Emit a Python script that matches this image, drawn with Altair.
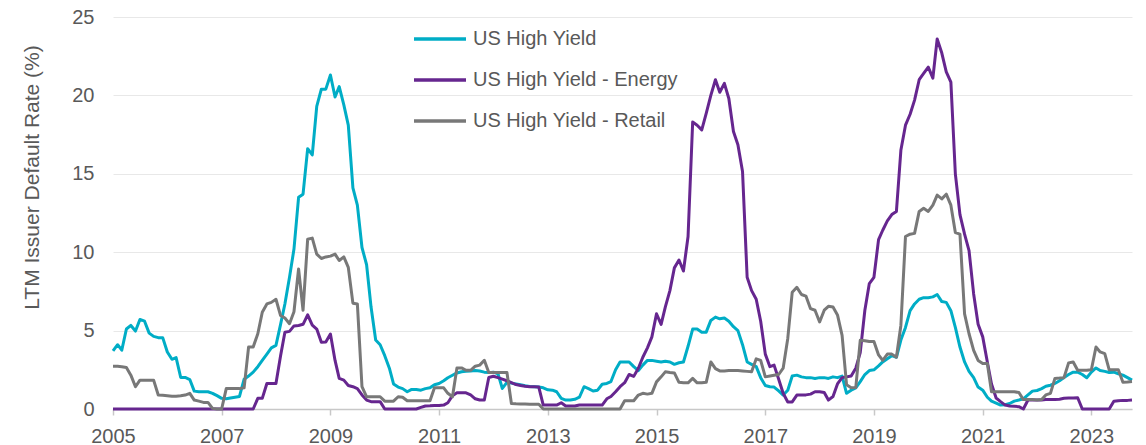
import altair as alt
import pandas as pd

# Monthly observations, Jan 2005 .. Oct 2023 (226 months)
start_month = "2005-01-01"
n_months = 226

hy = [
    3.7, 4.1, 3.75, 5.1, 5.33, 4.97, 5.71, 5.6, 4.84, 4.63, 4.55, 4.55,
    3.64, 3.17, 3.28, 2.01, 2.01, 1.88, 1.14, 1.1, 1.1, 1.1, 1.0, 0.85,
    0.68, 0.65, 0.7, 0.75, 0.8, 1.9, 2.1, 2.35, 2.7, 3.1, 3.5, 3.9,
    4.06, 5.4, 6.7, 8.4, 10.2, 13.5, 13.7, 16.6, 16.2, 19.3, 20.4, 20.4,
    21.3, 19.9, 20.56, 19.4, 18.1, 14.1, 13.0, 10.3, 9.2, 6.5, 4.4, 4.1,
    3.4, 2.6, 1.6, 1.4, 1.3, 1.1, 1.25, 1.25, 1.2, 1.3, 1.35, 1.55,
    1.63, 1.8, 1.99, 2.15, 2.3, 2.38, 2.4, 2.43, 2.45, 2.42, 2.35, 2.32,
    2.35, 2.25, 1.31, 1.7, 1.65, 1.6, 1.55, 1.48, 1.44, 1.42, 1.4, 1.35,
    1.22, 1.2, 1.1, 0.68, 0.57, 0.57, 0.62, 0.75, 1.42, 1.3, 1.15, 1.2,
    1.58, 1.63, 1.75, 2.5, 3.0, 3.0, 3.0, 2.7, 2.45, 2.8, 3.1, 3.1,
    3.05, 3.0, 3.05, 3.0, 2.85, 2.95, 3.0, 4.0, 5.1, 5.1, 4.9, 4.9,
    5.65, 5.86, 5.75, 5.8, 5.6, 5.25, 5.0, 4.1, 3.0, 2.85, 2.7, 2.0,
    1.5, 1.42, 1.4, 1.15, 0.89, 1.2, 2.1, 2.16, 2.05, 2.0, 2.0, 1.95,
    2.0, 2.0, 1.95, 2.05, 2.0, 2.1, 1.0, 1.2, 1.35, 1.75, 2.2, 2.45,
    2.5, 2.75, 3.0, 3.2, 3.4, 3.3, 4.4, 5.2, 6.27, 6.7, 7.0, 7.1,
    7.1, 7.15, 7.3, 6.85, 6.8, 6.27, 5.2, 3.95, 3.0, 2.4, 2.0, 1.4,
    1.2, 0.75, 0.5, 0.38, 0.25, 0.27, 0.35, 0.5, 0.57, 0.65, 0.9, 1.14,
    1.18, 1.3, 1.45, 1.52, 1.63, 1.8, 2.0, 2.2, 2.35, 2.35, 2.2, 1.99,
    2.35, 2.62, 2.45, 2.4, 2.33, 2.35, 2.25, 2.16, 2.0, 1.84,
]

energy = [
    0, 0, 0, 0, 0, 0, 0, 0, 0, 0, 0, 0,
    0, 0, 0, 0, 0, 0, 0, 0, 0, 0, 0, 0,
    0, 0, 0, 0, 0, 0, 0, 0, 0.68, 0.68, 1.63, 1.63,
    1.63, 3.4, 4.9, 4.95, 5.3, 5.33, 5.4, 6.0, 5.35, 5.1, 4.25, 4.27,
    4.78, 3.1, 1.95, 1.84, 1.5, 1.42, 1.3, 0.9, 0.57, 0.47, 0.47, 0.47,
    0, 0, 0, 0, 0, 0, 0, 0, 0.1, 0.19, 0.2, 0.22,
    0.22, 0.25, 0.4, 0.85, 1.03, 1.03, 1.03, 0.9, 0.65, 0.57, 0.57, 2.01,
    2.09, 2.0, 1.9, 1.8, 1.68, 1.56, 1.5, 1.45, 1.42, 1.42, 1.4, 0.25,
    0.25, 0.25, 0.25, 0.4, 0.19, 0.19, 0.19, 0.25, 0.25, 0.25, 0.25, 0.25,
    0.25, 0.65, 0.8, 1.1, 1.42, 1.68, 2.2, 2.08, 2.6, 3.3, 3.9, 4.6,
    6.07, 5.4, 6.5, 7.55, 9.0, 9.5, 8.8, 11.0, 18.3, 18.1, 17.8, 18.85,
    20.0, 21.0, 20.2, 20.77, 19.8, 17.7, 16.85, 15.15, 8.4, 7.55, 7.0, 5.6,
    3.5, 2.7, 2.8, 1.9, 1.0, 0.45, 0.45, 0.89, 0.9, 0.9, 0.95, 1.1,
    1.1, 1.05, 0.57, 0.8, 1.6, 2.0, 2.05, 2.1, 2.6, 3.6, 6.3, 8.0,
    8.4, 10.8, 11.4, 12.0, 12.4, 12.6, 16.5, 18.1, 18.8, 19.7, 21.0, 21.4,
    21.8, 21.1, 23.6, 22.7, 21.5, 20.85, 15.0, 12.4, 11.15, 10.1, 7.34, 5.4,
    4.6, 3.0, 1.6, 0.7, 0.47, 0.25, 0.19, 0.17, 0.15, 0.0, 0.57, 0.57,
    0.57, 0.58, 0.6, 0.6, 0.61, 0.62, 0.68, 0.7, 0.7, 0.72, 0.0, 0.0,
    0.0, 0.0, 0.0, 0.0, 0.0, 0.5, 0.53, 0.55, 0.55, 0.57,
]

retail = [
    2.73, 2.73, 2.7, 2.65, 2.16, 1.42, 1.84, 1.84, 1.84, 1.84, 0.89, 0.87,
    0.85, 0.82, 0.82, 0.84, 0.89, 1.0, 0.57, 0.5, 0.42, 0.42, 0.04, 0.0,
    0.0, 1.3, 1.3, 1.3, 1.3, 1.35, 3.95, 3.95, 4.8, 6.17, 6.7, 6.8,
    7.0, 5.96, 5.8, 5.44, 6.2, 8.93, 6.3, 10.83, 10.9, 9.88, 9.6, 9.7,
    9.75, 9.88, 9.47, 9.7, 9.03, 6.75, 6.7, 1.42, 0.78, 0.78, 0.78, 0.78,
    0.5, 0.5, 0.5, 0.78, 0.75, 0.53, 0.53, 0.53, 0.53, 0.53, 0.53, 1.35,
    1.35, 1.35, 1.0, 0.78, 2.62, 2.62, 2.47, 2.47, 2.73, 2.8, 3.11, 2.33,
    2.33, 2.33, 2.33, 2.33, 0.35, 0.33, 0.32, 0.32, 0.3, 0.3, 0.3, 0.0,
    0, 0, 0, 0, 0, 0, 0, 0, 0, 0, 0, 0,
    0, 0, 0, 0, 0.0, 0.53, 0.53, 0.53, 0.89, 1.0, 0.95, 1.0,
    1.73, 2.05, 2.37, 2.33, 2.3, 1.7, 1.67, 1.67, 1.95, 1.67, 1.67, 1.7,
    3.0, 2.57, 2.43, 2.43, 2.45, 2.45, 2.45, 2.43, 2.4, 2.37, 3.2, 3.1,
    2.05, 2.1, 2.15, 2.2, 2.6, 4.5, 7.45, 7.76, 7.3, 7.2, 6.4, 6.3,
    5.55, 6.3, 6.55, 6.5, 6.0, 4.7, 1.55, 1.35, 1.37, 4.38, 4.35, 4.3,
    4.3, 3.45, 3.1, 3.5, 3.5, 3.3, 5.33, 11.0, 11.15, 11.2, 12.6, 12.8,
    12.6, 13.0, 13.64, 13.4, 13.7, 13.0, 11.25, 11.15, 6.07, 4.8, 3.74, 3.1,
    2.9, 2.9, 1.1, 1.1, 1.1, 1.1, 1.1, 1.1, 1.05, 0.6, 0.6, 0.6,
    0.58, 0.6, 0.9, 1.0, 1.95, 1.97, 2.0, 2.94, 3.0, 2.47, 2.47, 2.47,
    2.5, 3.95, 3.64, 3.53, 2.5, 2.5, 2.5, 1.7, 1.72, 1.75,
]

series_names = ["US High Yield", "US High Yield - Energy", "US High Yield - Retail"]
series_colors = ["#00ADC6", "#66268F", "#787878"]
tick_years = [2005, 2007, 2009, 2011, 2013, 2015, 2017, 2019, 2021, 2023]
y_ticks = [0, 5, 10, 15, 20, 25]

dates = pd.date_range(start_month, periods=n_months, freq="MS")
frames = []
for i, (name, vals) in enumerate(zip(series_names, [hy, energy, retail])):
    frames.append(pd.DataFrame({"date": dates, "rate": vals, "series": name, "k": i}))
df = pd.concat(frames, ignore_index=True)

FONT = "Liberation Sans"
TXT = "#595959"

chart = (
    alt.Chart(df)
    .mark_line(strokeWidth=3, strokeJoin="round")
    .encode(
        x=alt.X(
            "date:T",
            scale=alt.Scale(
                domain=[alt.DateTime(year=2005, month=1, date=1),
                        alt.DateTime(year=2023, month=10, date=1)],
                nice=False,
            ),
            axis=alt.Axis(
                title=None,
                values=[alt.DateTime(year=y, month=1, date=1) for y in tick_years],
                format="%Y",
                grid=False,
                domainColor="#C8C8C8",
                domainWidth=1.5,
                tickColor="#C8C8C8",
                tickWidth=1.5,
                tickSize=6,
                labelPadding=11,
                labelFont=FONT,
                labelFontSize=20,
                labelColor=TXT,
                labelFlush=False,
                labelOverlap=False,
            ),
        ),
        y=alt.Y(
            "rate:Q",
            scale=alt.Scale(domain=[0, 25], nice=False),
            axis=alt.Axis(
                title="LTM Issuer Default Rate (%)",
                values=y_ticks,
                grid=True,
                gridColor="#E8E8E8",
                gridWidth=1,
                domain=False,
                ticks=False,
                tickSize=0,
                labelPadding=19,
                labelFont=FONT,
                labelFontSize=20,
                labelColor=TXT,
                titleFont=FONT,
                titleFontSize=21,
                titleFontWeight="normal",
                titleColor=TXT,
                titleX=-71,
                titleY=160,
            ),
        ),
        color=alt.Color(
            "series:N",
            scale=alt.Scale(domain=series_names, range=series_colors),
            legend=alt.Legend(
                title=None,
                orient="none",
                legendX=299,
                legendY=-6,
                direction="vertical",
                symbolType="stroke",
                symbolSize=2704,
                symbolStrokeWidth=3.5,
                labelFont=FONT,
                labelFontSize=20,
                labelColor=TXT,
                labelOffset=5,
                rowPadding=3,
                labelLimit=400,
            ),
        ),
        detail="k:N",
    )
    .properties(
        width=1019,
        height=392,
        autosize=alt.AutoSizeParams(type="none"),
        padding={"left": 105, "top": 9, "right": 5, "bottom": 36},
    )
    .configure_view(stroke=None)
)

chart.save("out.html", embed_options={"renderer": "svg", "actions": False})
